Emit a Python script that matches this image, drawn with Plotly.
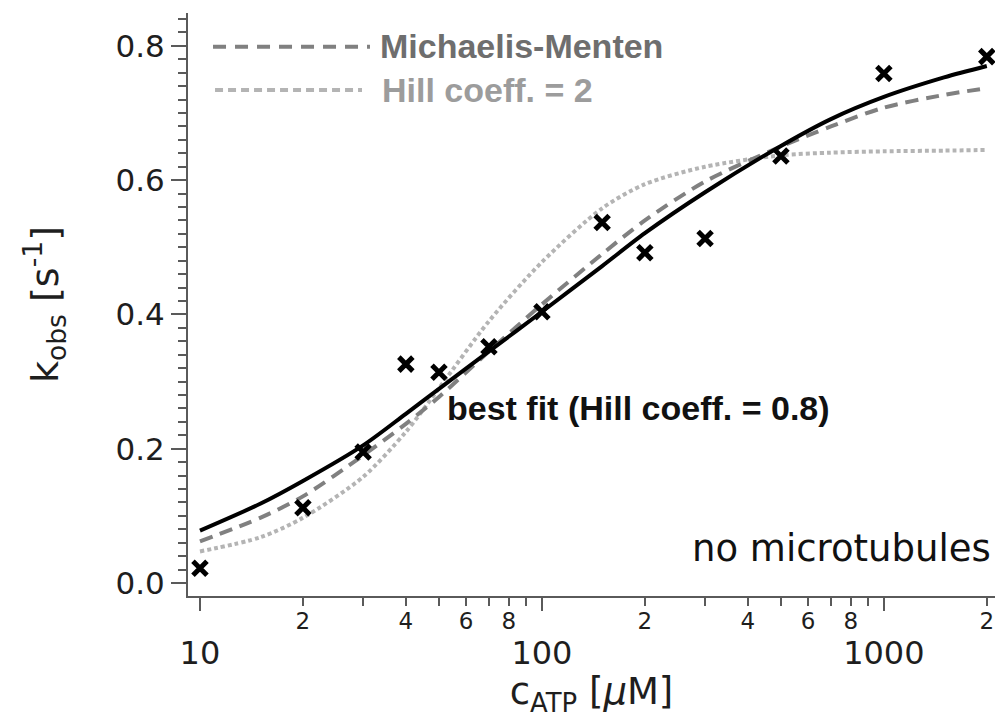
import plotly.graph_objects as go

# measured data (c_ATP in uM, k_obs in s^-1)
c_atp = [10, 20, 30, 40, 50, 70, 100, 150, 200, 300, 500, 1000, 2000]
k_obs = [0.022, 0.112, 0.195, 0.326, 0.314, 0.352, 0.404, 0.537, 0.492, 0.513, 0.636, 0.759, 0.784]

# fitted curves
x_curve = [10, 15, 20, 30, 40, 50, 70, 100, 150, 200, 300, 500, 700, 1000, 1500, 2000]
best_fit = [0.078, 0.118, 0.152, 0.205, 0.252, 0.289, 0.345, 0.404, 0.472, 0.521, 0.582, 0.651, 0.691, 0.724, 0.753, 0.770]
michaelis = [0.062, 0.097, 0.129, 0.190, 0.237, 0.277, 0.345, 0.415, 0.490, 0.540, 0.598, 0.650, 0.680, 0.708, 0.727, 0.737]
hill2 = [0.047, 0.068, 0.097, 0.158, 0.225, 0.290, 0.390, 0.478, 0.558, 0.594, 0.620, 0.637, 0.641, 0.643, 0.644, 0.645]

major_x = [10, 100, 1000]
major_x_text = ["10", "100", "1000"]
minor_lab_x = [20, 40, 60, 80, 200, 400, 600, 800, 2000]
minor_lab_text = ["2", "4", "6", "8", "2", "4", "6", "8", "2"]
minor_x = [20, 30, 40, 50, 60, 70, 80, 90, 200, 300, 400, 500, 600, 700, 800, 900, 2000]

AX = "#5a5a5a"
SANS = "DejaVu Sans"
BOLD = "Liberation Sans"
TXT = "#1e1e1e"

fig = go.Figure()
fig.add_trace(go.Scatter(x=x_curve, y=hill2, mode="lines",
                         line=dict(color="#b4b4b4", width=4, dash="4px,3px", shape="spline", smoothing=0.8), showlegend=False))
fig.add_trace(go.Scatter(x=x_curve, y=michaelis, mode="lines",
                         line=dict(color="#808080", width=4, dash="13px,8px", shape="spline", smoothing=0.8), showlegend=False))
fig.add_trace(go.Scatter(x=x_curve, y=best_fit, mode="lines",
                         line=dict(color="black", width=4, shape="spline", smoothing=0.8), showlegend=False))
fig.add_trace(go.Scatter(x=c_atp, y=k_obs, mode="markers",
                         marker=dict(symbol="x-thin", size=14, line=dict(color="black", width=5)), showlegend=False))
# invisible trace on second x axis that carries the small minor-tick labels
fig.add_trace(go.Scatter(x=[c_atp[0]], y=[k_obs[0]], xaxis="x2", mode="markers",
                         marker=dict(opacity=0), showlegend=False, hoverinfo="skip"))

xr = [0.965, 3.325]
fig.update_layout(
    width=999, height=718,
    margin=dict(l=188, r=4, t=13, b=122),
    paper_bgcolor="white", plot_bgcolor="white",
    font=dict(family=SANS, color=TXT),
    xaxis=dict(type="log", range=xr, showgrid=False, zeroline=False,
               showline=True, linecolor=AX, linewidth=2,
               tickmode="array", tickvals=major_x, ticktext=major_x_text,
               ticks="outside", ticklen=13, tickwidth=2, tickcolor=AX,
               tickfont=dict(size=32, family=SANS, color=TXT),
               ticklabelstandoff=15,
               minor=dict(tickmode="array", tickvals=minor_x, ticks="outside", ticklen=8, tickwidth=2, tickcolor=AX),
               title=dict(text="c<sub>ATP</sub> [<i>μ</i>M]", font=dict(size=37, family=SANS, color=TXT), standoff=5)),
    xaxis2=dict(type="log", range=xr, overlaying="x", side="bottom", anchor="y",
                showgrid=False, zeroline=False, showline=False,
                tickmode="array", tickvals=minor_lab_x, ticktext=minor_lab_text,
                ticks="", tickfont=dict(size=23, family=SANS, color=TXT), ticklabelstandoff=9),
    yaxis=dict(range=[-0.0194, 0.849], showgrid=False, zeroline=False,
               showline=True, linecolor=AX, linewidth=2,
               tickmode="array", tickvals=[0.0, 0.2, 0.4, 0.6, 0.8], ticktext=["0.0", "0.2", "0.4", "0.6", "0.8"],
               ticks="outside", ticklen=15, tickwidth=2, tickcolor=AX,
               tickfont=dict(size=31, family=SANS, color=TXT),
               minor=dict(dtick=0.02, tick0=0, ticks="outside", ticklen=8, tickwidth=2, tickcolor=AX),
               title=dict(text="k<sub>obs</sub> [s<sup>-1</sup>]", font=dict(size=38, family=SANS, color=TXT), standoff=45)),
)

# legend samples and labels
fig.add_shape(type="line", xref="paper", yref="paper", x0=0.031, x1=0.2255, y0=0.942, y1=0.942,
              line=dict(color="#808080", width=4, dash="13px,9px"))
fig.add_shape(type="line", xref="paper", yref="paper", x0=0.0335, x1=0.2156, y0=0.868, y1=0.868,
              line=dict(color="#b4b4b4", width=4, dash="8px,5px"))
fig.add_annotation(xref="paper", yref="paper", x=0.236, y=0.943, xanchor="left", yanchor="middle",
                   text="<b>Michaelis-Menten</b>", showarrow=False, font=dict(family=BOLD, size=34, color="#6e6e6e"))
fig.add_annotation(xref="paper", yref="paper", x=0.238, y=0.868, xanchor="left", yanchor="middle",
                   text="<b>Hill coeff. = 2</b>", showarrow=False, font=dict(family=BOLD, size=34, color="#9c9c9c"))
fig.add_annotation(xref="paper", yref="paper", x=0.319, y=0.3225, xanchor="left", yanchor="middle",
                   text="<b>best fit (Hill coeff. = 0.8)</b>", showarrow=False, font=dict(family=BOLD, size=34, color="#111"))
fig.add_annotation(xref="paper", yref="paper", x=0.9975, y=0.082, xanchor="right", yanchor="middle",
                   text="no microtubules", showarrow=False, font=dict(family=SANS, size=37, color="#111"))

fig.write_html("out.html")
